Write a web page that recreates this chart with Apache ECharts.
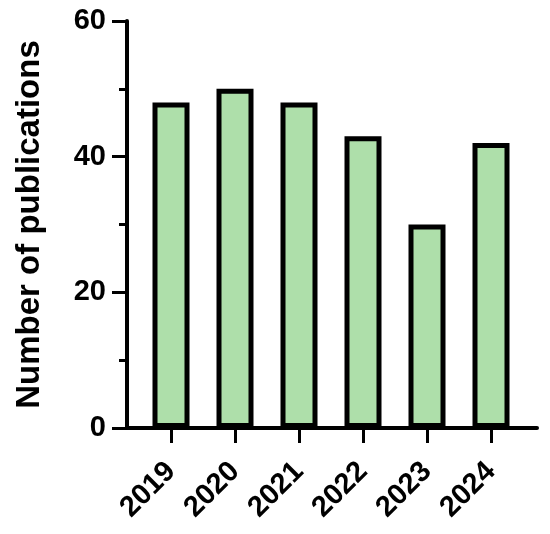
<!DOCTYPE html>
<html>
<head>
<meta charset="utf-8">
<script src="https://cdn.jsdelivr.net/npm/echarts@6/dist/echarts.min.js"></script>
<style>
  html, body { margin: 0; padding: 0; background: #fff; }
  #chart { width: 550px; height: 534px; }
</style>
</head>
<body>
<div id="chart"></div>
<script>
const years = ['2019', '2020', '2021', '2022', '2023', '2024']
const publications = [48, 50, 48, 43, 30, 42]
const yTicks = [0, 20, 40, 60]

const font = 'Liberation Sans, Arial, sans-serif'
const chart = echarts.init(document.getElementById('chart'))

chart.setOption({
  animation: false,
  grid: [
    { left: 127, right: 13, top: 21, bottom: 106 },
    { left: 139, right: 27, top: 21, bottom: 106 }
  ],
  xAxis: [
    {
      gridIndex: 0,
      type: 'value',
      min: 0,
      max: 1,
      axisLine: { show: true, onZero: false, lineStyle: { color: '#000', width: 4 } },
      axisTick: { show: false },
      axisLabel: { show: false },
      splitLine: { show: false }
    },
    {
      gridIndex: 1,
      type: 'category',
      data: years,
      axisLine: { show: false },
      axisTick: { show: true, alignWithLabel: true, length: 15, lineStyle: { color: '#000', width: 3 } },
      axisLabel: {
        rotate: 45,
        margin: 39,
        color: '#000',
        fontFamily: font,
        fontWeight: 'bold',
        fontSize: 29
      }
    }
  ],
  yAxis: [
    {
      gridIndex: 0,
      type: 'value',
      min: yTicks[0],
      max: yTicks[yTicks.length - 1],
      interval: 20,
      name: 'Number of publications',
      nameLocation: 'middle',
      nameGap: 81,
      nameTextStyle: { color: '#000', fontFamily: font, fontWeight: 'bold', fontSize: 33 },
      axisLine: { show: true, lineStyle: { color: '#000', width: 4 } },
      axisTick: { show: true, length: 15, lineStyle: { color: '#000', width: 3 } },
      minorTick: { show: true, splitNumber: 2, length: 8, lineStyle: { color: '#000', width: 3 } },
      axisLabel: { margin: 21, color: '#000', fontFamily: font, fontWeight: 'bold', fontSize: 29 },
      splitLine: { show: false }
    },
    {
      gridIndex: 1,
      type: 'value',
      min: 0,
      max: 60,
      show: false
    }
  ],
  series: [
    {
      type: 'bar',
      xAxisIndex: 1,
      yAxisIndex: 1,
      data: publications,
      barWidth: 37,
      itemStyle: { color: '#aedfaa', borderColor: '#000', borderWidth: 5 }
    }
  ]
})
</script>
</body>
</html>
